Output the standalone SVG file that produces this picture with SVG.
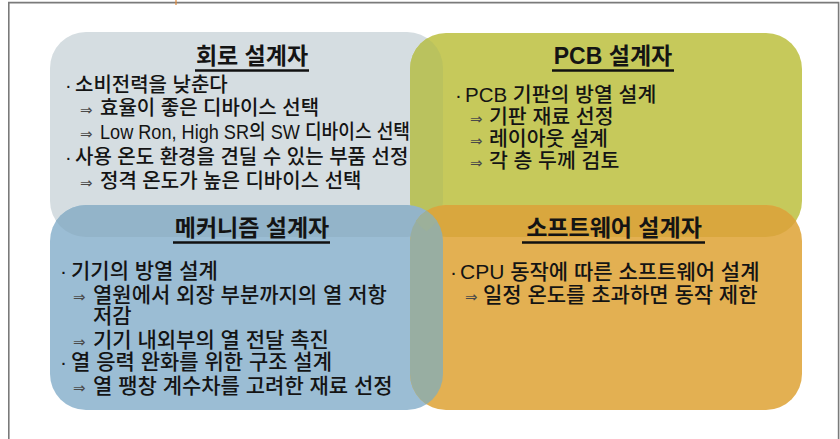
<svg xmlns="http://www.w3.org/2000/svg" xmlns:xlink="http://www.w3.org/1999/xlink" width="840" height="439" viewBox="0 0 840 439">
<style>
  text { font-family: "Liberation Sans", "Noto Sans CJK KR", sans-serif; fill: #141414; font-weight: 500; }
  .t { font-size: 23px; font-weight: 700; text-anchor: middle; }
  .b { font-size: 21px; }
  .g { font-size: 20.5px; }
  .s { font-size: 20px; }
  .ar { font-family: "DejaVu Sans", sans-serif; font-size: 15px; fill: #4a4a4a; font-weight: 400; }
  .ul { stroke: #111; stroke-width: 2.4; }
  .frame { stroke: #7a7a7a; stroke-width: 1.6; fill: none; }
</style>
<defs>
  <rect id="rA" x="50" y="32" width="393" height="205" rx="36"/>
  <rect id="rB" x="410" y="33" width="392" height="204" rx="36"/>
  <rect id="rC" x="50" y="205" width="393" height="205" rx="36"/>
  <rect id="rD" x="410" y="205" width="392" height="205" rx="36"/>
  <clipPath id="cA"><use xlink:href="#rA"/></clipPath>
  <clipPath id="cB"><use xlink:href="#rB"/></clipPath>
  <clipPath id="cC"><use xlink:href="#rC"/></clipPath>
</defs>
<rect width="840" height="439" fill="#ffffff"/>
<path class="frame" d="M8.8 439 V2.6 H838.6 V439"/>
<line x1="176" y1="0" x2="176" y2="5" stroke="#e0893a" stroke-width="1.2"/>

<g id="shapes">
  <use xlink:href="#rA" fill="#d5dde1"/>
  <use xlink:href="#rB" fill="#c6c95b"/>
  <use xlink:href="#rC" fill="#9bbdd4"/>
  <use xlink:href="#rD" fill="#e3b052"/>
</g>
<g id="overlaps">
  <use xlink:href="#rB" fill="#bac25e" clip-path="url(#cA)"/>
  <use xlink:href="#rC" fill="#93b4c9" clip-path="url(#cA)"/>
  <use xlink:href="#rD" fill="#d9a73e" clip-path="url(#cB)"/>
  <use xlink:href="#rD" fill="#98aea2" clip-path="url(#cC)"/>
  <g clip-path="url(#cA)"><g clip-path="url(#cB)"><use xlink:href="#rD" fill="#9cb09a" clip-path="url(#cC)"/></g></g>
</g>

<g id="node-circuit">
  <text class="t" x="252" y="64">회로 설계자</text>
  <line class="ul" x1="195" y1="70.5" x2="309" y2="70.5"/>
  <text class="s" y="91.5"><tspan x="65">·</tspan><tspan x="75">소비전력을 낮춘다</tspan></text>
  <text class="s" y="115"><tspan class="ar" x="80">⇒</tspan><tspan x="100">효율이 좋은 디바이스 선택</tspan></text>
  <text class="s" y="139"><tspan class="ar" x="80">⇒</tspan></text>
  <text class="s" x="100" y="139" textLength="310" lengthAdjust="spacingAndGlyphs">Low Ron, High SR의 SW 디바이스 선택</text>
  <text class="s" y="163.5"><tspan x="65">·</tspan><tspan x="75">사용 온도 환경을 견딜 수 있는 부품 선정</tspan></text>
  <text class="s" y="187.5"><tspan class="ar" x="80">⇒</tspan><tspan x="100">정격 온도가 높은 디바이스 선택</tspan></text>
</g>

<g id="node-pcb">
  <text class="t" x="613" y="64">PCB 설계자</text>
  <line class="ul" x1="552" y1="70.5" x2="674" y2="70.5"/>
  <text class="g" y="102"><tspan x="455">·</tspan><tspan x="465">PCB 기판의 방열 설계</tspan></text>
  <text class="g" y="124"><tspan class="ar" x="470">⇒</tspan><tspan x="489">기판 재료 선정</tspan></text>
  <text class="g" y="146"><tspan class="ar" x="470">⇒</tspan><tspan x="489">레이아웃 설계</tspan></text>
  <text class="g" y="168"><tspan class="ar" x="470">⇒</tspan><tspan x="489">각 층 두께 검토</tspan></text>
</g>

<g id="node-mechanism">
  <text class="t" x="252" y="236">메커니즘 설계자</text>
  <line class="ul" x1="173" y1="242.5" x2="330" y2="242.5"/>
  <text class="b" y="277.5"><tspan x="60">·</tspan><tspan x="71">기기의 방열 설계</tspan></text>
  <text class="b" y="301.5"><tspan class="ar" x="73">⇒</tspan><tspan x="93">열원에서 외장 부분까지의 열 저항</tspan></text>
  <text class="b" y="322.5"><tspan x="93">저감</tspan></text>
  <text class="b" y="346.5"><tspan class="ar" x="73">⇒</tspan><tspan x="93">기기 내외부의 열 전달 촉진</tspan></text>
  <text class="b" y="368.5"><tspan x="60">·</tspan><tspan x="71">열 응력 완화를 위한 구조 설계</tspan></text>
  <text class="b" y="392.5"><tspan class="ar" x="73">⇒</tspan><tspan x="93">열 팽창 계수차를 고려한 재료 선정</tspan></text>
</g>

<g id="node-software">
  <text class="t" x="614" y="236">소프트웨어 설계자</text>
  <line class="ul" x1="522" y1="242.5" x2="705" y2="242.5"/>
  <text class="b" y="279"><tspan x="450">·</tspan><tspan x="460">CPU 동작에 따른 소프트웨어 설계</tspan></text>
  <text class="b" y="301.5"><tspan class="ar" x="465">⇒</tspan><tspan x="483">일정 온도를 초과하면 동작 제한</tspan></text>
</g>
</svg>
